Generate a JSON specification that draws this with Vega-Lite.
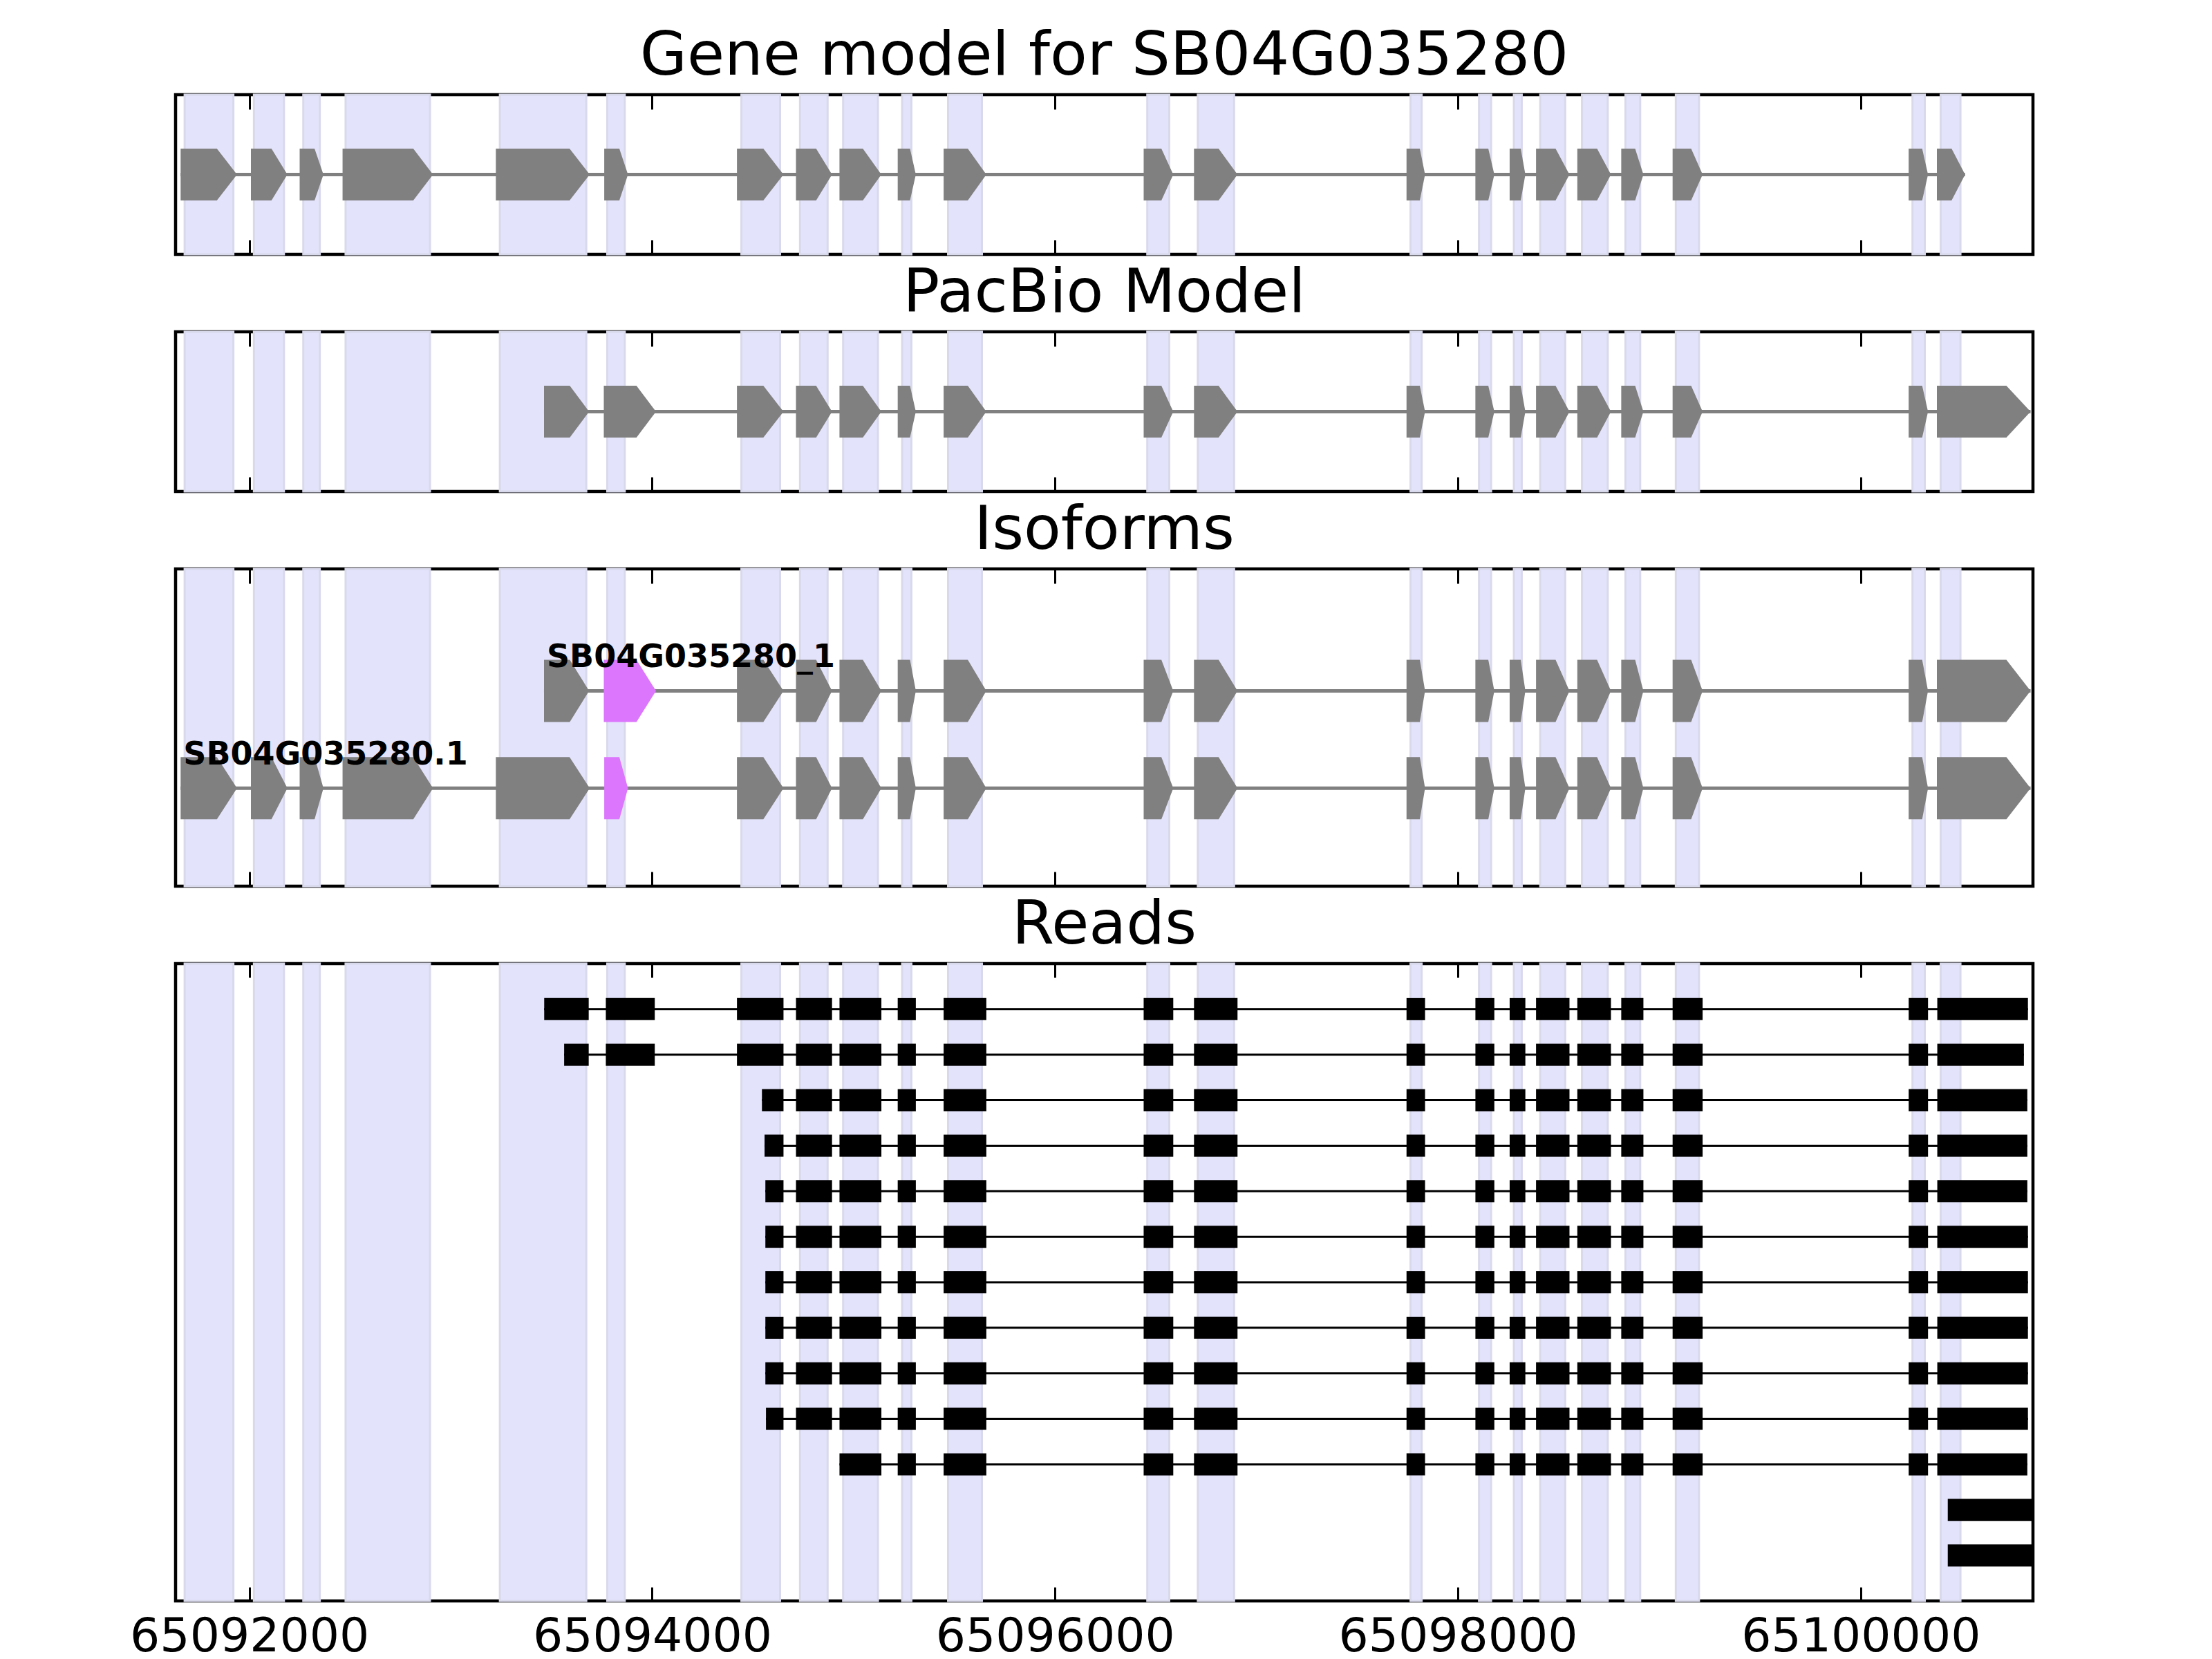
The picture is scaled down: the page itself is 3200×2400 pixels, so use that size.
{
"$schema": "https://vega.github.io/schema/vega-lite/v6.json",
"background": "white",
"padding": {"left": 185, "top": 35, "right": 20, "bottom": 20},
"bounds": "flush",
"spacing": 112,
"config": {
  "view": {"stroke": "black", "strokeWidth": 4.5},
  "font": "DejaVu Sans",
  "axis": {"grid": false, "domain": false, "zindex": 1},
  "title": {"fontSize": 88, "font": "DejaVu Sans", "fontWeight": "normal", "color": "#000000", "anchor": "middle", "frame": "group", "baseline": "alphabetic", "offset": 10}
},
"datasets": {
  "bands": [
    {"s":65091679,"e":65091921},{"s":65092023,"e":65092172},{"s":65092268,"e":65092350},{"s":65092478,"e":65092897},{"s":65093244,"e":65093673},{"s":65093777,"e":65093864},{"s":65094443,"e":65094635},{"s":65094734,"e":65094871},{"s":65094948,"e":65095121},{"s":65095241,"e":65095287},{"s":65095469,"e":65095637},{"s":65096458,"e":65096567},{"s":65096709,"e":65096889},{"s":65097765,"e":65097820},{"s":65098105,"e":65098165},{"s":65098278,"e":65098317},{"s":65098409,"e":65098533},{"s":65098616,"e":65098744},{"s":65098832,"e":65098905},{"s":65099082,"e":65099197},{"s":65100257,"e":65100318},{"s":65100397,"e":65100495}
  ],
  "gene": [
    {"id":"g1","start":65091659,"shoulder":65091839,"end":65091939,"kind":"exon"},
    {"id":"g2","start":65092008,"shoulder":65092110,"end":65092189,"kind":"exon"},
    {"id":"g3","start":65092250,"shoulder":65092324,"end":65092368,"kind":"exon"},
    {"id":"g4","start":65092463,"shoulder":65092814,"end":65092912,"kind":"exon"},
    {"id":"g5","start":65093224,"shoulder":65093590,"end":65093690,"kind":"exon"},
    {"id":"g6","start":65093762,"shoulder":65093837,"end":65093880,"kind":"exon"},
    {"id":"g7","start":65094421,"shoulder":65094552,"end":65094652,"kind":"exon"},
    {"id":"g8","start":65094714,"shoulder":65094814,"end":65094893,"kind":"exon"},
    {"id":"g9","start":65094930,"shoulder":65095046,"end":65095138,"kind":"exon"},
    {"id":"g10","start":65095219,"shoulder":65095280,"end":65095309,"kind":"exon"},
    {"id":"g11","start":65095447,"shoulder":65095567,"end":65095659,"kind":"exon"},
    {"id":"g12","start":65096440,"shoulder":65096528,"end":65096587,"kind":"exon"},
    {"id":"g13","start":65096690,"shoulder":65096812,"end":65096906,"kind":"exon"},
    {"id":"g14","start":65097745,"shoulder":65097811,"end":65097837,"kind":"exon"},
    {"id":"g15","start":65098087,"shoulder":65098151,"end":65098181,"kind":"exon"},
    {"id":"g16","start":65098257,"shoulder":65098312,"end":65098335,"kind":"exon"},
    {"id":"g17","start":65098388,"shoulder":65098485,"end":65098554,"kind":"exon"},
    {"id":"g18","start":65098593,"shoulder":65098691,"end":65098760,"kind":"exon"},
    {"id":"g19","start":65098811,"shoulder":65098880,"end":65098921,"kind":"exon"},
    {"id":"g20","start":65099066,"shoulder":65099158,"end":65099215,"kind":"exon"},
    {"id":"g21","start":65100238,"shoulder":65100305,"end":65100334,"kind":"exon"},
    {"id":"g22","start":65100378,"shoulder":65100451,"end":65100518,"kind":"exon"}
  ],
  "pacbio": [
    {"id":"pA","start":65093463,"shoulder":65093591,"end":65093687,"kind":"exon"},
    {"id":"pB","start":65093760,"shoulder":65093922,"end":65094019,"kind":"exon"},
    {"id":"g7","start":65094421,"shoulder":65094552,"end":65094652,"kind":"exon"},
    {"id":"g8","start":65094714,"shoulder":65094814,"end":65094893,"kind":"exon"},
    {"id":"g9","start":65094930,"shoulder":65095046,"end":65095138,"kind":"exon"},
    {"id":"g10","start":65095219,"shoulder":65095280,"end":65095309,"kind":"exon"},
    {"id":"g11","start":65095447,"shoulder":65095567,"end":65095659,"kind":"exon"},
    {"id":"g12","start":65096440,"shoulder":65096528,"end":65096587,"kind":"exon"},
    {"id":"g13","start":65096690,"shoulder":65096812,"end":65096906,"kind":"exon"},
    {"id":"g14","start":65097745,"shoulder":65097811,"end":65097837,"kind":"exon"},
    {"id":"g15","start":65098087,"shoulder":65098151,"end":65098181,"kind":"exon"},
    {"id":"g16","start":65098257,"shoulder":65098312,"end":65098335,"kind":"exon"},
    {"id":"g17","start":65098388,"shoulder":65098485,"end":65098554,"kind":"exon"},
    {"id":"g18","start":65098593,"shoulder":65098691,"end":65098760,"kind":"exon"},
    {"id":"g19","start":65098811,"shoulder":65098880,"end":65098921,"kind":"exon"},
    {"id":"g20","start":65099066,"shoulder":65099158,"end":65099215,"kind":"exon"},
    {"id":"g21","start":65100238,"shoulder":65100305,"end":65100334,"kind":"exon"},
    {"id":"pL","start":65100378,"shoulder":65100723,"end":65100843,"kind":"exon"}
  ],
  "iso_top": [
    {"id":"pA","start":65093463,"shoulder":65093591,"end":65093687,"kind":"exon"},
    {"id":"pB","start":65093760,"shoulder":65093922,"end":65094019,"kind":"alt"},
    {"id":"g7","start":65094421,"shoulder":65094552,"end":65094652,"kind":"exon"},
    {"id":"g8","start":65094714,"shoulder":65094814,"end":65094893,"kind":"exon"},
    {"id":"g9","start":65094930,"shoulder":65095046,"end":65095138,"kind":"exon"},
    {"id":"g10","start":65095219,"shoulder":65095280,"end":65095309,"kind":"exon"},
    {"id":"g11","start":65095447,"shoulder":65095567,"end":65095659,"kind":"exon"},
    {"id":"g12","start":65096440,"shoulder":65096528,"end":65096587,"kind":"exon"},
    {"id":"g13","start":65096690,"shoulder":65096812,"end":65096906,"kind":"exon"},
    {"id":"g14","start":65097745,"shoulder":65097811,"end":65097837,"kind":"exon"},
    {"id":"g15","start":65098087,"shoulder":65098151,"end":65098181,"kind":"exon"},
    {"id":"g16","start":65098257,"shoulder":65098312,"end":65098335,"kind":"exon"},
    {"id":"g17","start":65098388,"shoulder":65098485,"end":65098554,"kind":"exon"},
    {"id":"g18","start":65098593,"shoulder":65098691,"end":65098760,"kind":"exon"},
    {"id":"g19","start":65098811,"shoulder":65098880,"end":65098921,"kind":"exon"},
    {"id":"g20","start":65099066,"shoulder":65099158,"end":65099215,"kind":"exon"},
    {"id":"g21","start":65100238,"shoulder":65100305,"end":65100334,"kind":"exon"},
    {"id":"pL","start":65100378,"shoulder":65100723,"end":65100843,"kind":"exon"}
  ],
  "iso_bottom": [
    {"id":"g1","start":65091659,"shoulder":65091839,"end":65091939,"kind":"exon"},
    {"id":"g2","start":65092008,"shoulder":65092110,"end":65092189,"kind":"exon"},
    {"id":"g3","start":65092250,"shoulder":65092324,"end":65092368,"kind":"exon"},
    {"id":"g4","start":65092463,"shoulder":65092814,"end":65092912,"kind":"exon"},
    {"id":"g5","start":65093224,"shoulder":65093590,"end":65093690,"kind":"exon"},
    {"id":"g6","start":65093762,"shoulder":65093837,"end":65093880,"kind":"alt"},
    {"id":"g7","start":65094421,"shoulder":65094552,"end":65094652,"kind":"exon"},
    {"id":"g8","start":65094714,"shoulder":65094814,"end":65094893,"kind":"exon"},
    {"id":"g9","start":65094930,"shoulder":65095046,"end":65095138,"kind":"exon"},
    {"id":"g10","start":65095219,"shoulder":65095280,"end":65095309,"kind":"exon"},
    {"id":"g11","start":65095447,"shoulder":65095567,"end":65095659,"kind":"exon"},
    {"id":"g12","start":65096440,"shoulder":65096528,"end":65096587,"kind":"exon"},
    {"id":"g13","start":65096690,"shoulder":65096812,"end":65096906,"kind":"exon"},
    {"id":"g14","start":65097745,"shoulder":65097811,"end":65097837,"kind":"exon"},
    {"id":"g15","start":65098087,"shoulder":65098151,"end":65098181,"kind":"exon"},
    {"id":"g16","start":65098257,"shoulder":65098312,"end":65098335,"kind":"exon"},
    {"id":"g17","start":65098388,"shoulder":65098485,"end":65098554,"kind":"exon"},
    {"id":"g18","start":65098593,"shoulder":65098691,"end":65098760,"kind":"exon"},
    {"id":"g19","start":65098811,"shoulder":65098880,"end":65098921,"kind":"exon"},
    {"id":"g20","start":65099066,"shoulder":65099158,"end":65099215,"kind":"exon"},
    {"id":"g21","start":65100238,"shoulder":65100305,"end":65100334,"kind":"exon"},
    {"id":"pL","start":65100378,"shoulder":65100723,"end":65100843,"kind":"exon"}
  ],
  "shape_one": [{"vertex":"start","lo":-1,"hi":1},{"vertex":"shoulder","lo":-1,"hi":1},{"vertex":"end","lo":0,"hi":0}],
  "shape_top": [{"vertex":"start","lo":2.04,"hi":3.96},{"vertex":"shoulder","lo":2.04,"hi":3.96},{"vertex":"end","lo":3,"hi":3}],
  "shape_bottom": [{"vertex":"start","lo":-0.96,"hi":0.96},{"vertex":"shoulder","lo":-0.96,"hi":0.96},{"vertex":"end","lo":0,"hi":0}],
  "intron_gene": [{"track":0,"start":65091659,"end":65100518}],
  "intron_pacbio": [{"track":0,"start":65093463,"end":65100843}],
  "intron_iso": [{"track":3,"start":65093463,"end":65100843},{"track":0,"start":65091659,"end":65100843}],
  "labels": [{"name":"SB04G035280_1","start":65093463,"track":3},{"name":"SB04G035280.1","start":65091659,"track":0}],
  "read_spans": [
    {"r":0,"s":65093464,"e":65100830},{"r":1,"s":65093563,"e":65100810},{"r":2,"s":65094545,"e":65100827},{"r":3,"s":65094558,"e":65100827},{"r":4,"s":65094562,"e":65100827},{"r":5,"s":65094562,"e":65100830},{"r":6,"s":65094562,"e":65100830},{"r":7,"s":65094562,"e":65100830},{"r":8,"s":65094562,"e":65100830},{"r":9,"s":65094565,"e":65100830},{"r":10,"s":65094930,"e":65100827}
  ],
  "read_blocks": [
    {"r":0,"s":65093464,"e":65093685},{"r":0,"s":65093770,"e":65094013},{"r":0,"s":65094421,"e":65094652},{"r":0,"s":65094714,"e":65094893},{"r":0,"s":65094930,"e":65095138},{"r":0,"s":65095219,"e":65095309},{"r":0,"s":65095447,"e":65095659},{"r":0,"s":65096440,"e":65096587},{"r":0,"s":65096690,"e":65096906},{"r":0,"s":65097745,"e":65097837},{"r":0,"s":65098087,"e":65098181},{"r":0,"s":65098257,"e":65098335},{"r":0,"s":65098388,"e":65098554},{"r":0,"s":65098593,"e":65098760},{"r":0,"s":65098811,"e":65098921},{"r":0,"s":65099066,"e":65099215},{"r":0,"s":65100238,"e":65100334},{"r":0,"s":65100380,"e":65100830},
    {"r":1,"s":65093563,"e":65093685},{"r":1,"s":65093770,"e":65094013},{"r":1,"s":65094421,"e":65094652},{"r":1,"s":65094714,"e":65094893},{"r":1,"s":65094930,"e":65095138},{"r":1,"s":65095219,"e":65095309},{"r":1,"s":65095447,"e":65095659},{"r":1,"s":65096440,"e":65096587},{"r":1,"s":65096690,"e":65096906},{"r":1,"s":65097745,"e":65097837},{"r":1,"s":65098087,"e":65098181},{"r":1,"s":65098257,"e":65098335},{"r":1,"s":65098388,"e":65098554},{"r":1,"s":65098593,"e":65098760},{"r":1,"s":65098811,"e":65098921},{"r":1,"s":65099066,"e":65099215},{"r":1,"s":65100238,"e":65100334},{"r":1,"s":65100380,"e":65100810},
    {"r":2,"s":65094545,"e":65094652},{"r":2,"s":65094714,"e":65094893},{"r":2,"s":65094930,"e":65095138},{"r":2,"s":65095219,"e":65095309},{"r":2,"s":65095447,"e":65095659},{"r":2,"s":65096440,"e":65096587},{"r":2,"s":65096690,"e":65096906},{"r":2,"s":65097745,"e":65097837},{"r":2,"s":65098087,"e":65098181},{"r":2,"s":65098257,"e":65098335},{"r":2,"s":65098388,"e":65098554},{"r":2,"s":65098593,"e":65098760},{"r":2,"s":65098811,"e":65098921},{"r":2,"s":65099066,"e":65099215},{"r":2,"s":65100238,"e":65100334},{"r":2,"s":65100380,"e":65100827},
    {"r":3,"s":65094558,"e":65094652},{"r":3,"s":65094714,"e":65094893},{"r":3,"s":65094930,"e":65095138},{"r":3,"s":65095219,"e":65095309},{"r":3,"s":65095447,"e":65095659},{"r":3,"s":65096440,"e":65096587},{"r":3,"s":65096690,"e":65096906},{"r":3,"s":65097745,"e":65097837},{"r":3,"s":65098087,"e":65098181},{"r":3,"s":65098257,"e":65098335},{"r":3,"s":65098388,"e":65098554},{"r":3,"s":65098593,"e":65098760},{"r":3,"s":65098811,"e":65098921},{"r":3,"s":65099066,"e":65099215},{"r":3,"s":65100238,"e":65100334},{"r":3,"s":65100380,"e":65100827},
    {"r":4,"s":65094562,"e":65094652},{"r":4,"s":65094714,"e":65094893},{"r":4,"s":65094930,"e":65095138},{"r":4,"s":65095219,"e":65095309},{"r":4,"s":65095447,"e":65095659},{"r":4,"s":65096440,"e":65096587},{"r":4,"s":65096690,"e":65096906},{"r":4,"s":65097745,"e":65097837},{"r":4,"s":65098087,"e":65098181},{"r":4,"s":65098257,"e":65098335},{"r":4,"s":65098388,"e":65098554},{"r":4,"s":65098593,"e":65098760},{"r":4,"s":65098811,"e":65098921},{"r":4,"s":65099066,"e":65099215},{"r":4,"s":65100238,"e":65100334},{"r":4,"s":65100380,"e":65100827},
    {"r":5,"s":65094562,"e":65094652},{"r":5,"s":65094714,"e":65094893},{"r":5,"s":65094930,"e":65095138},{"r":5,"s":65095219,"e":65095309},{"r":5,"s":65095447,"e":65095659},{"r":5,"s":65096440,"e":65096587},{"r":5,"s":65096690,"e":65096906},{"r":5,"s":65097745,"e":65097837},{"r":5,"s":65098087,"e":65098181},{"r":5,"s":65098257,"e":65098335},{"r":5,"s":65098388,"e":65098554},{"r":5,"s":65098593,"e":65098760},{"r":5,"s":65098811,"e":65098921},{"r":5,"s":65099066,"e":65099215},{"r":5,"s":65100238,"e":65100334},{"r":5,"s":65100380,"e":65100830},
    {"r":6,"s":65094562,"e":65094652},{"r":6,"s":65094714,"e":65094893},{"r":6,"s":65094930,"e":65095138},{"r":6,"s":65095219,"e":65095309},{"r":6,"s":65095447,"e":65095659},{"r":6,"s":65096440,"e":65096587},{"r":6,"s":65096690,"e":65096906},{"r":6,"s":65097745,"e":65097837},{"r":6,"s":65098087,"e":65098181},{"r":6,"s":65098257,"e":65098335},{"r":6,"s":65098388,"e":65098554},{"r":6,"s":65098593,"e":65098760},{"r":6,"s":65098811,"e":65098921},{"r":6,"s":65099066,"e":65099215},{"r":6,"s":65100238,"e":65100334},{"r":6,"s":65100380,"e":65100830},
    {"r":7,"s":65094562,"e":65094652},{"r":7,"s":65094714,"e":65094893},{"r":7,"s":65094930,"e":65095138},{"r":7,"s":65095219,"e":65095309},{"r":7,"s":65095447,"e":65095659},{"r":7,"s":65096440,"e":65096587},{"r":7,"s":65096690,"e":65096906},{"r":7,"s":65097745,"e":65097837},{"r":7,"s":65098087,"e":65098181},{"r":7,"s":65098257,"e":65098335},{"r":7,"s":65098388,"e":65098554},{"r":7,"s":65098593,"e":65098760},{"r":7,"s":65098811,"e":65098921},{"r":7,"s":65099066,"e":65099215},{"r":7,"s":65100238,"e":65100334},{"r":7,"s":65100380,"e":65100830},
    {"r":8,"s":65094562,"e":65094652},{"r":8,"s":65094714,"e":65094893},{"r":8,"s":65094930,"e":65095138},{"r":8,"s":65095219,"e":65095309},{"r":8,"s":65095447,"e":65095659},{"r":8,"s":65096440,"e":65096587},{"r":8,"s":65096690,"e":65096906},{"r":8,"s":65097745,"e":65097837},{"r":8,"s":65098087,"e":65098181},{"r":8,"s":65098257,"e":65098335},{"r":8,"s":65098388,"e":65098554},{"r":8,"s":65098593,"e":65098760},{"r":8,"s":65098811,"e":65098921},{"r":8,"s":65099066,"e":65099215},{"r":8,"s":65100238,"e":65100334},{"r":8,"s":65100380,"e":65100830},
    {"r":9,"s":65094565,"e":65094652},{"r":9,"s":65094714,"e":65094893},{"r":9,"s":65094930,"e":65095138},{"r":9,"s":65095219,"e":65095309},{"r":9,"s":65095447,"e":65095659},{"r":9,"s":65096440,"e":65096587},{"r":9,"s":65096690,"e":65096906},{"r":9,"s":65097745,"e":65097837},{"r":9,"s":65098087,"e":65098181},{"r":9,"s":65098257,"e":65098335},{"r":9,"s":65098388,"e":65098554},{"r":9,"s":65098593,"e":65098760},{"r":9,"s":65098811,"e":65098921},{"r":9,"s":65099066,"e":65099215},{"r":9,"s":65100238,"e":65100334},{"r":9,"s":65100380,"e":65100830},
    {"r":10,"s":65094930,"e":65095138},{"r":10,"s":65095219,"e":65095309},{"r":10,"s":65095447,"e":65095659},{"r":10,"s":65096440,"e":65096587},{"r":10,"s":65096690,"e":65096906},{"r":10,"s":65097745,"e":65097837},{"r":10,"s":65098087,"e":65098181},{"r":10,"s":65098257,"e":65098335},{"r":10,"s":65098388,"e":65098554},{"r":10,"s":65098593,"e":65098760},{"r":10,"s":65098811,"e":65098921},{"r":10,"s":65099066,"e":65099215},{"r":10,"s":65100238,"e":65100334},{"r":10,"s":65100380,"e":65100827},
    {"r":11,"s":65100432,"e":65100900},
    {"r":12,"s":65100432,"e":65100900}
  ]
},
"vconcat": [
  {
    "width": 2687, "height": 231,
    "title": {"text": "Gene model for SB04G035280"},
    "layer": [
      {"data": {"name": "bands"}, "mark": {"type": "rect", "fill": "#E3E3FC", "stroke": "#D9D9EC", "strokeWidth": 3},
       "encoding": {"x": {"field": "s", "type": "quantitative", "scale": {"domain": [65091634, 65100855], "nice": false, "zero": false}, "axis": {"orient": "bottom", "values": [65092000,65094000,65096000,65098000,65100000], "tickSize": -21, "tickWidth": 3, "tickColor": "#000000", "labels": false, "title": null}}, "x2": {"field": "e"}}},
      {"data": {"name": "intron_gene"}, "mark": {"type": "rule", "color": "#808080", "strokeWidth": 5},
       "encoding": {"x": {"field": "start", "type": "quantitative", "scale": {"domain": [65091634, 65100855], "nice": false, "zero": false}, "axis": {"orient": "top", "values": [65092000,65094000,65096000,65098000,65100000], "tickSize": -21, "tickWidth": 3, "tickColor": "#000000", "labels": false, "title": null}}, "x2": {"field": "end"}, "y": {"field": "track", "type": "quantitative", "scale": {"domain": [-3.08, 3.08], "nice": false, "zero": false}, "axis": null}}},
      {"data": {"name": "gene"}, "transform": [{"fold": ["start", "shoulder", "end"], "as": ["vertex", "pos"]}, {"lookup": "vertex", "from": {"data": {"name": "shape_one"}, "key": "vertex", "fields": ["lo", "hi"]}}],
       "mark": {"type": "area", "orient": "vertical", "opacity": 1},
       "encoding": {"x": {"field": "pos", "type": "quantitative", "scale": {"domain": [65091634, 65100855], "nice": false, "zero": false}, "axis": null}, "y": {"field": "lo", "type": "quantitative", "scale": {"domain": [-3.08, 3.08], "nice": false, "zero": false}, "axis": null}, "y2": {"field": "hi"}, "detail": {"field": "id"}, "color": {"field": "kind", "type": "nominal", "scale": {"domain": ["exon", "alt"], "range": ["#808080", "#DC76FC"]}, "legend": null}}}
    ],
    "resolve": {"axis": {"x": "independent"}}
  },
  {
    "width": 2687, "height": 231,
    "title": {"text": "PacBio Model"},
    "layer": [
      {"data": {"name": "bands"}, "mark": {"type": "rect", "fill": "#E3E3FC", "stroke": "#D9D9EC", "strokeWidth": 3},
       "encoding": {"x": {"field": "s", "type": "quantitative", "scale": {"domain": [65091634, 65100855], "nice": false, "zero": false}, "axis": {"orient": "bottom", "values": [65092000,65094000,65096000,65098000,65100000], "tickSize": -21, "tickWidth": 3, "tickColor": "#000000", "labels": false, "title": null}}, "x2": {"field": "e"}}},
      {"data": {"name": "intron_pacbio"}, "mark": {"type": "rule", "color": "#808080", "strokeWidth": 5},
       "encoding": {"x": {"field": "start", "type": "quantitative", "scale": {"domain": [65091634, 65100855], "nice": false, "zero": false}, "axis": {"orient": "top", "values": [65092000,65094000,65096000,65098000,65100000], "tickSize": -21, "tickWidth": 3, "tickColor": "#000000", "labels": false, "title": null}}, "x2": {"field": "end"}, "y": {"field": "track", "type": "quantitative", "scale": {"domain": [-3.08, 3.08], "nice": false, "zero": false}, "axis": null}}},
      {"data": {"name": "pacbio"}, "transform": [{"fold": ["start", "shoulder", "end"], "as": ["vertex", "pos"]}, {"lookup": "vertex", "from": {"data": {"name": "shape_one"}, "key": "vertex", "fields": ["lo", "hi"]}}],
       "mark": {"type": "area", "orient": "vertical", "opacity": 1},
       "encoding": {"x": {"field": "pos", "type": "quantitative", "scale": {"domain": [65091634, 65100855], "nice": false, "zero": false}, "axis": null}, "y": {"field": "lo", "type": "quantitative", "scale": {"domain": [-3.08, 3.08], "nice": false, "zero": false}, "axis": null}, "y2": {"field": "hi"}, "detail": {"field": "id"}, "color": {"field": "kind", "type": "nominal", "scale": {"domain": ["exon", "alt"], "range": ["#808080", "#DC76FC"]}, "legend": null}}}
    ],
    "resolve": {"axis": {"x": "independent"}}
  },
  {
    "width": 2687, "height": 459,
    "title": {"text": "Isoforms"},
    "layer": [
      {"data": {"name": "bands"}, "mark": {"type": "rect", "fill": "#E3E3FC", "stroke": "#D9D9EC", "strokeWidth": 3},
       "encoding": {"x": {"field": "s", "type": "quantitative", "scale": {"domain": [65091634, 65100855], "nice": false, "zero": false}, "axis": {"orient": "bottom", "values": [65092000,65094000,65096000,65098000,65100000], "tickSize": -21, "tickWidth": 3, "tickColor": "#000000", "labels": false, "title": null}}, "x2": {"field": "e"}}},
      {"data": {"name": "intron_iso"}, "mark": {"type": "rule", "color": "#808080", "strokeWidth": 5},
       "encoding": {"x": {"field": "start", "type": "quantitative", "scale": {"domain": [65091634, 65100855], "nice": false, "zero": false}, "axis": {"orient": "top", "values": [65092000,65094000,65096000,65098000,65100000], "tickSize": -21, "tickWidth": 3, "tickColor": "#000000", "labels": false, "title": null}}, "x2": {"field": "end"}, "y": {"field": "track", "type": "quantitative", "scale": {"domain": [-3.02, 6.76], "nice": false, "zero": false}, "axis": null}}},
      {"data": {"name": "iso_top"}, "transform": [{"fold": ["start", "shoulder", "end"], "as": ["vertex", "pos"]}, {"lookup": "vertex", "from": {"data": {"name": "shape_top"}, "key": "vertex", "fields": ["lo", "hi"]}}],
       "mark": {"type": "area", "orient": "vertical", "opacity": 1},
       "encoding": {"x": {"field": "pos", "type": "quantitative", "scale": {"domain": [65091634, 65100855], "nice": false, "zero": false}, "axis": null}, "y": {"field": "lo", "type": "quantitative", "scale": {"domain": [-3.02, 6.76], "nice": false, "zero": false}, "axis": null}, "y2": {"field": "hi"}, "detail": {"field": "id"}, "color": {"field": "kind", "type": "nominal", "scale": {"domain": ["exon", "alt"], "range": ["#808080", "#DC76FC"]}, "legend": null}}},
      {"data": {"name": "iso_bottom"}, "transform": [{"fold": ["start", "shoulder", "end"], "as": ["vertex", "pos"]}, {"lookup": "vertex", "from": {"data": {"name": "shape_bottom"}, "key": "vertex", "fields": ["lo", "hi"]}}],
       "mark": {"type": "area", "orient": "vertical", "opacity": 1},
       "encoding": {"x": {"field": "pos", "type": "quantitative", "scale": {"domain": [65091634, 65100855], "nice": false, "zero": false}, "axis": null}, "y": {"field": "lo", "type": "quantitative", "scale": {"domain": [-3.02, 6.76], "nice": false, "zero": false}, "axis": null}, "y2": {"field": "hi"}, "detail": {"field": "id"}, "color": {"field": "kind", "type": "nominal", "scale": {"domain": ["exon", "alt"], "range": ["#808080", "#DC76FC"]}, "legend": null}}},
      {"data": {"name": "labels"}, "mark": {"type": "text", "font": "DejaVu Sans", "fontSize": 46, "fontWeight": "bold", "align": "left", "baseline": "alphabetic", "dx": 4, "dy": -34, "color": "#000000"},
       "encoding": {"x": {"field": "start", "type": "quantitative", "scale": {"domain": [65091634, 65100855], "nice": false, "zero": false}, "axis": null}, "y": {"field": "track", "type": "quantitative", "scale": {"domain": [-3.02, 6.76], "nice": false, "zero": false}, "axis": null}, "text": {"field": "name"}}}
    ],
    "resolve": {"axis": {"x": "independent"}}
  },
  {
    "width": 2687, "height": 922,
    "title": {"text": "Reads"},
    "layer": [
      {"data": {"name": "bands"}, "mark": {"type": "rect", "fill": "#E3E3FC", "stroke": "#D9D9EC", "strokeWidth": 3},
       "encoding": {"x": {"field": "s", "type": "quantitative", "scale": {"domain": [65091634, 65100855], "nice": false, "zero": false}, "axis": {"orient": "bottom", "values": [65092000,65094000,65096000,65098000,65100000], "tickSize": -20, "tickWidth": 3, "tickColor": "#000000", "labels": true, "format": "d", "labelFont": "DejaVu Sans", "labelFontSize": 68, "labelColor": "#000000", "labelPadding": 38, "labelLimit": 1000, "labelFlush": false, "labelOverlap": false, "title": null}}, "x2": {"field": "e"}}},
      {"data": {"name": "read_spans"}, "mark": {"type": "rule", "color": "#000000", "strokeWidth": 3},
       "encoding": {"x": {"field": "s", "type": "quantitative", "scale": {"domain": [65091634, 65100855], "nice": false, "zero": false}, "axis": {"orient": "top", "values": [65092000,65094000,65096000,65098000,65100000], "tickSize": -20, "tickWidth": 3, "tickColor": "#000000", "labels": false, "title": null}}, "x2": {"field": "e"}, "y": {"field": "r", "type": "quantitative", "scale": {"domain": [-1, 13], "nice": false, "zero": false, "reverse": true}, "axis": null}}},
      {"data": {"name": "read_blocks"}, "mark": {"type": "rule", "color": "#000000", "strokeWidth": 32, "clip": true},
       "encoding": {"x": {"field": "s", "type": "quantitative", "scale": {"domain": [65091634, 65100855], "nice": false, "zero": false}, "axis": null}, "x2": {"field": "e"}, "y": {"field": "r", "type": "quantitative", "scale": {"domain": [-1, 13], "nice": false, "zero": false, "reverse": true}, "axis": null}}}
    ],
    "resolve": {"axis": {"x": "independent"}}
  }
]
}
